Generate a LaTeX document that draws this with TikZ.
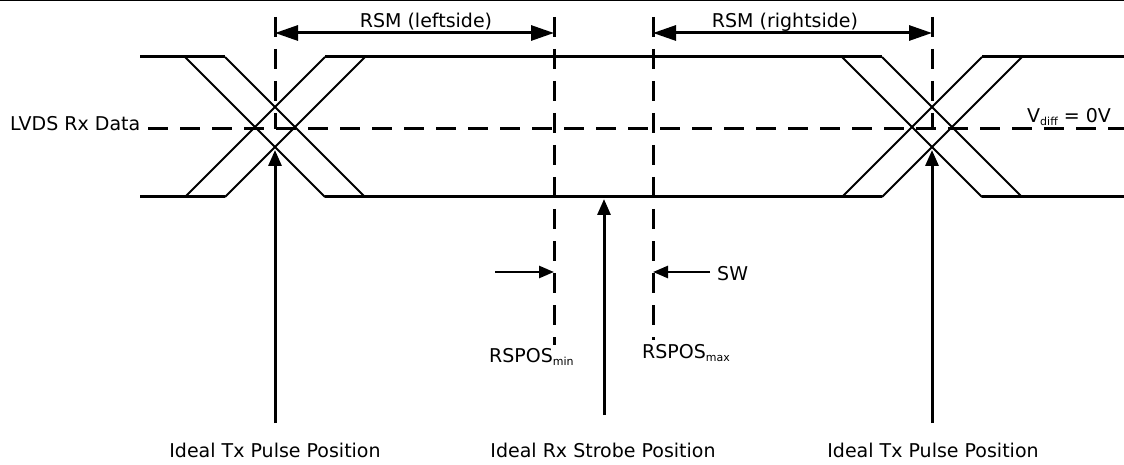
\documentclass[tikz,border=0pt]{standalone}
\usepackage{fontspec}
\setmainfont{DejaVu Sans}
\usetikzlibrary{arrows.meta}
\newcommand{\subtxt}[1]{\raisebox{-3pt}{\fontsize{11}{11}\selectfont #1}}
\begin{document}
\begin{tikzpicture}[x=1pt,y=-1pt,
  waveline/.style={line width=3pt},
  diagline/.style={line width=1.8pt},
  dshline/.style={line width=3pt, dash pattern=on 20pt off 12pt},
  lbl/.style={inner sep=0pt, font=\fontsize{19}{22}\selectfont},
  dimarrow/.style={line width=3pt, {Triangle[length=23pt,width=15pt]}-{Triangle[length=23pt,width=15pt]}},
  posarrow/.style={line width=3pt, -{Triangle[length=16pt,width=13pt]}},
  swarrow/.style={line width=2.5pt, -{Triangle[length=15pt,width=12pt]}}]
\useasboundingbox (0,0) rectangle (1124,465);
\draw[line width=1.5pt] (0,0.75) -- (1124,0.75);

% waveform flat lines
\draw[waveline] (140,57) -- (225,57);
\draw[waveline] (325,57) -- (882,57);
\draw[waveline] (982,57) -- (1124,57);
\draw[waveline] (140,197) -- (225,197);
\draw[waveline] (325,197) -- (882,197);
\draw[waveline] (982,197) -- (1124,197);
% left crossing
\draw[diagline] (185,57) -- (325,197);
\draw[diagline] (225,57) -- (365,197);
\draw[diagline] (185,197) -- (325,57);
\draw[diagline] (225,197) -- (365,57);
% right crossing
\draw[diagline] (842,57) -- (982,197);
\draw[diagline] (882,57) -- (1022,197);
\draw[diagline] (842,197) -- (982,57);
\draw[diagline] (882,197) -- (1022,57);

% coordinates
\coordinate (mL) at (148,129);
\coordinate (mR) at (1124,129);
\coordinate (t1) at (275,17);  \coordinate (c1) at (275,129);
\coordinate (t2) at (554,17);  \coordinate (b2) at (554,345);
\coordinate (t3) at (653,17);  \coordinate (b3) at (653,340);
\coordinate (t4) at (932,17);  \coordinate (c4) at (932,129);
\coordinate (a1) at (275,33); \coordinate (a2) at (554,33);
\coordinate (a3) at (653,33); \coordinate (a4) at (932,33);
\coordinate (p1s) at (275,423); \coordinate (p1e) at (275,150);
\coordinate (p4s) at (932,423); \coordinate (p4e) at (932,150);
\coordinate (rs) at (604,415); \coordinate (re) at (604,199);
\coordinate (sw1s) at (495,272); \coordinate (sw1e) at (554,272);
\coordinate (sw2s) at (710,272); \coordinate (sw2e) at (653,272);

% dashed lines
\draw[dshline] (mL) -- (mR);
\draw[dshline] (t1) -- (c1);
\draw[dshline] (t2) -- (b2);
\draw[dshline] (t3) -- (b3);
\draw[dshline] (t4) -- (c4);

% arrows
\draw[dimarrow] (a1) -- (a2);
\draw[dimarrow] (a3) -- (a4);
\draw[posarrow] (p1s) -- (p1e);
\draw[posarrow] (p4s) -- (p4e);
\draw[posarrow] (rs) -- (re);
\draw[swarrow] (sw1s) -- (sw1e);
\draw[swarrow] (sw2s) -- (sw2e);

% labels
\node[lbl, anchor=base] (rsml) at (426,28) {RSM (leftside)};
\node[lbl, anchor=base] (rsmr) at (785,28) {RSM (rightside)};
\node[lbl, anchor=base west] (lvds) at (10,131) {LVDS Rx Data};
\node[lbl, anchor=base west] (vdiff) at (1027,123) {V\subtxt{diff} = 0V};
\node[lbl, anchor=base west] (swl) at (717,280) {SW};
\node[lbl, anchor=base west] (rmin) at (489,362) {RSPOS\subtxt{min}};
\node[lbl, anchor=base west] (rmax) at (642,358) {RSPOS\subtxt{max}};
\node[lbl, anchor=base] (tx1) at (275,457) {Ideal Tx Pulse Position};
\node[lbl, anchor=base] (rx) at (603,457) {Ideal Rx Strobe Position};
\node[lbl, anchor=base] (tx2) at (933,457) {Ideal Tx Pulse Position};
\end{tikzpicture}
\end{document}
